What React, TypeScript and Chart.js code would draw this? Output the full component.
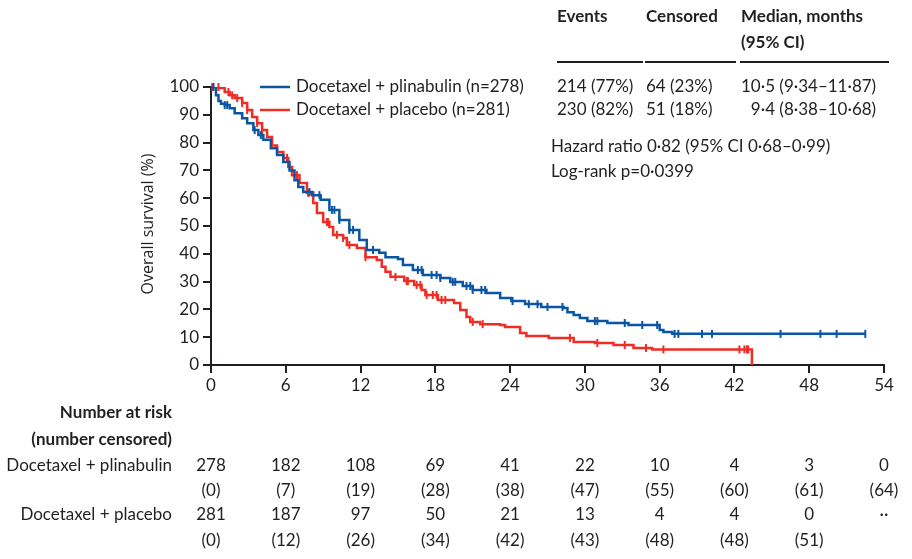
import React, { useEffect, useRef } from 'react';
import { Chart, registerables } from 'chart.js';

Chart.register(...registerables);

// ---------- data ----------
const monthTicks = [0, 6, 12, 18, 24, 30, 36, 42, 48, 54];

const plinTimes = [0, 0.4, 0.6, 0.8, 1.1, 1.5, 1.9, 2.5, 2.9, 3.4, 3.8, 4.2, 4.8, 5.3, 5.8, 6.3, 6.7, 7.0, 7.4, 8.1, 8.8, 9.5, 10.3, 11.1, 11.9, 12.5, 13.5, 14.0, 15.0, 15.4, 16.2, 17.0, 18.4, 19.2, 20.2, 21.0, 22.1, 23.2, 24.1, 25.2, 26.5, 28.3, 28.6, 29.1, 29.6, 30.2, 31.8, 33.5, 36.0, 36.3, 37.0, 52.5];
const plinSurv = [100, 97, 95, 94, 93.5, 92.4, 90.6, 88.8, 87, 84.5, 82.7, 81, 78, 75.5, 73, 70, 66.5, 64, 62.2, 61.1, 59.4, 55.8, 52.2, 48.6, 45, 41.4, 40.4, 38.8, 38.1, 36, 34.2, 32.4, 31.3, 29.9, 28.4, 27, 25.9, 24.1, 23, 21.9, 20.9, 20.5, 19, 18, 16.9, 15.8, 15.1, 14.4, 12.6, 11.9, 11.2, 11.2];

const placTimes = [0, 0.7, 1.1, 1.5, 1.9, 2.5, 2.9, 3.3, 3.7, 4.1, 4.5, 4.9, 5.3, 5.8, 6.2, 6.5, 7.1, 7.7, 8.2, 8.5, 9.0, 9.5, 9.8, 10.6, 10.9, 11.7, 12.4, 13.3, 13.7, 14.0, 14.4, 15.5, 16.3, 16.9, 17.2, 18.2, 19.5, 20.0, 20.5, 20.8, 21.6, 23.2, 23.6, 24.8, 25.3, 27.1, 29.1, 30.8, 32.3, 33.9, 35.4, 43.4];
const placSurv = [100, 99.6, 98.2, 97, 96, 94.2, 91.7, 89.2, 87, 84.5, 82, 79, 76.6, 74.5, 71.2, 68.3, 65.5, 61.9, 58.3, 54.7, 51.4, 49.6, 46.8, 45.7, 43.2, 42.1, 38.8, 37.8, 35.3, 33.5, 31.7, 30.2, 28.8, 27, 25.2, 23.4, 22.3, 19.8, 17.3, 15.5, 14.7, 14.4, 13.7, 11.5, 10.4, 9.7, 8.3, 7.9, 7.2, 6.1, 5.6, 0];

const plinCensor = [0.2, 1.1, 1.3, 3.5, 4.0, 7.9, 8.2, 8.7, 9.7, 9.9, 10.3, 11.1, 11.4, 13.0, 16.6, 16.9, 17.7, 18.1, 18.4, 19.4, 19.6, 20.5, 20.8, 21.0, 21.7, 22.0, 24.2, 25.5, 26.2, 27.0, 28.2, 30.8, 31.0, 33.2, 34.6, 35.8, 37.2, 37.5, 39.4, 40.2, 45.7, 48.9, 50.2, 52.5];
const placCensor = [0.1, 0.6, 1.4, 1.7, 2.1, 2.5, 2.9, 3.7, 4.1, 5.8, 6.1, 6.9, 7.8, 9.3, 9.4, 10.1, 10.6, 11.1, 12.4, 14.8, 15.7, 15.8, 16.5, 16.8, 17.3, 17.8, 18.1, 18.5, 18.8, 21.0, 21.8, 28.8, 31.0, 33.2, 34.9, 36.3, 42.4, 42.8, 43.0, 43.1];

const plinAtRisk = ['278', '182', '108', '69', '41', '22', '10', '4', '3', '0'];
const plinCensored = ['(0)', '(7)', '(19)', '(28)', '(38)', '(47)', '(55)', '(60)', '(61)', '(64)'];
const placAtRisk = ['281', '187', '97', '50', '21', '13', '4', '4', '0', '··'];
const placCensored = ['(0)', '(12)', '(26)', '(34)', '(42)', '(43)', '(48)', '(48)', '(51)', ''];

const seriesLabels = ['Docetaxel + plinabulin (n=278)', 'Docetaxel + placebo (n=281)'];
const rowLabels = ['Docetaxel + plinabulin', 'Docetaxel + placebo'];
const riskHeader = ['Number at risk', '(number censored)'];
const tableHeaders = ['Events', 'Censored', 'Median, months'];
const tableHeader2 = '(95% CI)';
const plinStats = ['214 (77%)', '64 (23%)', '10·5 (9·34–11·87)'];
const placStats = ['230 (82%)', '51 (18%)', '\u20079·4 (8·38–10·68)'];
const hrText = 'Hazard ratio 0·82 (95% CI 0·68–0·99)';
const logRankText = 'Log-rank p=0·0399';
const yTitle = 'Overall survival (%)';

// ---------- styles ----------
const BLUE = '#0a56a2';
const RED = '#ee2d24';
const INK = '#231f20';
const FONT = 'Lato, "Noto Sans", sans-serif';

function survAt(times: number[], surv: number[], t: number): number {
  let s = surv[0];
  for (let i = 0; i < times.length; i++) {
    if (times[i] <= t) s = surv[i];
  }
  return s;
}

const overlay = {
  id: 'kmOverlay',
  afterDraw(chart: any) {
    const ctx: CanvasRenderingContext2D = chart.ctx;
    const xs = chart.scales.x;
    ctx.save();
    ctx.fillStyle = INK;
    ctx.textBaseline = 'middle';

    // legend
    const legendColors = [BLUE, RED];
    const legendY = [87, 110];
    seriesLabels.forEach((lab, i) => {
      ctx.strokeStyle = legendColors[i];
      ctx.lineWidth = 2.5;
      ctx.beginPath();
      ctx.moveTo(260, legendY[i]);
      ctx.lineTo(290, legendY[i]);
      ctx.stroke();
      ctx.font = `17px ${FONT}`;
      ctx.textAlign = 'left';
      ctx.fillText(lab, 296, legendY[i]);
    });

    // summary table
    const colX = [557, 646, 741];
    ctx.font = `bold 17px ${FONT}`;
    tableHeaders.forEach((h, i) => ctx.fillText(h, colX[i], 17));
    ctx.fillText(tableHeader2, colX[2], 43);
    ctx.strokeStyle = INK;
    ctx.lineWidth = 2;
    const segs = [[557, 643], [645, 736], [740, 889]];
    segs.forEach(([a, b]) => {
      ctx.beginPath();
      ctx.moveTo(a, 62);
      ctx.lineTo(b, 62);
      ctx.stroke();
    });
    ctx.font = `17px ${FONT}`;
    plinStats.forEach((s, i) => ctx.fillText(s, colX[i], 87));
    placStats.forEach((s, i) => ctx.fillText(s, colX[i], 110));
    ctx.fillText(hrText, 551, 147);
    ctx.fillText(logRankText, 551, 172);

    // y axis title
    ctx.save();
    ctx.translate(148, 224);
    ctx.rotate(-Math.PI / 2);
    ctx.textAlign = 'center';
    ctx.font = `16px "Open Sans", sans-serif`;
    ctx.fillText(yTitle, 0, 0);
    ctx.restore();

    // number at risk table
    ctx.textAlign = 'right';
    ctx.font = `bold 17px ${FONT}`;
    ctx.fillText(riskHeader[0], 172, 413);
    ctx.fillText(riskHeader[1], 172, 440);
    ctx.font = `17px ${FONT}`;
    ctx.fillText(rowLabels[0], 172, 466);
    ctx.fillText(rowLabels[1], 172, 515);
    ctx.textAlign = 'center';
    monthTicks.forEach((t, i) => {
      const px = xs.getPixelForValue(t);
      ctx.fillText(plinAtRisk[i], px, 466);
      ctx.fillText(plinCensored[i], px, 491);
      ctx.fillText(placAtRisk[i], px, 515);
      ctx.fillText(placCensored[i], px, 541);
    });
    ctx.restore();
  },
};

export default function App() {
  const ref = useRef<HTMLCanvasElement | null>(null);

  useEffect(() => {
    if (!ref.current) return;
    const censorDs = (times: number[], ts: number[], ss: number[], color: string) => ({
      data: times.map((t) => ({ x: t, y: survAt(ts, ss, t) })),
      showLine: false,
      pointStyle: 'line',
      rotation: 90,
      pointRadius: 4,
      pointHoverRadius: 4,
      pointBorderWidth: 2,
      pointBorderColor: color,
      borderColor: color,
      backgroundColor: color,
      clip: false,
    });
    const chart = new Chart(ref.current, {
      type: 'line',
      data: {
        datasets: [
          {
            label: seriesLabels[0],
            data: plinTimes.map((t, i) => ({ x: t, y: plinSurv[i] })),
            borderColor: BLUE,
            borderWidth: 2.5,
            stepped: 'before',
            pointRadius: 0,
            fill: false,
          },
          {
            label: seriesLabels[1],
            data: placTimes.map((t, i) => ({ x: t, y: placSurv[i] })),
            borderColor: RED,
            borderWidth: 2.5,
            stepped: 'before',
            pointRadius: 0,
            fill: false,
          },
          censorDs(plinCensor, plinTimes, plinSurv, BLUE),
          censorDs(placCensor, placTimes, placSurv, RED),
        ] as any,
      },
      options: {
        responsive: false,
        animation: false,
        events: [],
        layout: { padding: { left: 130, right: 28, top: 87, bottom: 0 } },
        plugins: { legend: { display: false }, tooltip: { enabled: false } },
        scales: {
          x: {
            type: 'linear',
            min: 0,
            max: 54,
            afterFit: (s: any) => { s.height = 194; },
            afterBuildTicks: (s: any) => { s.ticks = monthTicks.map((v) => ({ value: v })); },
            ticks: { color: INK, font: { family: FONT, size: 17 }, padding: 2, maxRotation: 0 },
            grid: { drawOnChartArea: false, drawTicks: true, tickLength: 8, color: INK, lineWidth: 2 },
            border: { color: INK, width: 2 },
          },
          y: {
            min: 0,
            max: 100,
            afterFit: (s: any) => { s.width = 81; },
            ticks: { stepSize: 10, color: INK, font: { family: FONT, size: 17 }, padding: 4 },
            grid: { drawOnChartArea: false, drawTicks: true, tickLength: 8, color: INK, lineWidth: 2 },
            border: { color: INK, width: 2 },
          },
        },
      } as any,
      plugins: [overlay],
    });
    return () => chart.destroy();
  }, []);

  return (
    <div style={{ position: 'absolute', left: 0, top: 0, width: 912, height: 559, background: '#fff' }}>
      <canvas ref={ref} width={912} height={559} style={{ display: 'block' }} />
    </div>
  );
}
